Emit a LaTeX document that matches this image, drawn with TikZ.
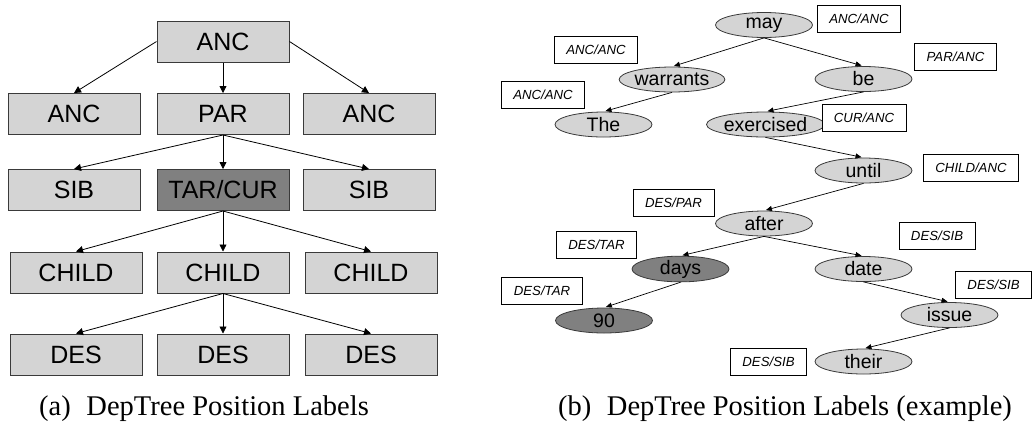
\documentclass[tikz,border=0pt]{standalone}
\usepackage{fontspec}
\setmainfont{Liberation Serif}
\newfontfamily\arialfont{Liberation Sans}
\usetikzlibrary{arrows.meta,shapes.geometric}

\definecolor{boxlight}{HTML}{D4D4D4}
\definecolor{boxdark}{HTML}{808080}
\definecolor{edgegray}{HTML}{3A3A3A}

\tikzset{
  posbox/.style={draw=edgegray, line width=1pt, fill=boxlight, minimum width=132pt,
    minimum height=41pt, inner sep=0pt, font=\arialfont\fontsize{25}{28}\selectfont},
  posdark/.style={posbox, fill=boxdark},
  bigarrow/.style={draw=black, line width=0.8pt, -{Triangle[length=7pt,width=7pt]}},
  word/.style={ellipse, draw=edgegray, line width=0.8pt, fill=boxlight, minimum width=97pt,
    minimum height=25pt, inner sep=0pt, font=\arialfont\fontsize{19.5}{21}\selectfont},
  worddark/.style={word, fill=boxdark},
  tag/.style={draw=black, line width=0.8pt, fill=white, minimum height=27pt, inner xsep=12pt,
    inner ysep=0pt, font=\arialfont\itshape\fontsize{13.2}{15}\selectfont},
  smallarrow/.style={draw=black, line width=0.7pt, -{Triangle[length=6pt,width=5pt]}, shorten >=2pt},
  caption/.style={anchor=base, font=\fontsize{28.5}{32}\selectfont}
}

\begin{document}
\begin{tikzpicture}[x=1pt,y=-1pt]
\useasboundingbox (0,0) rectangle (1035,424);

% ---- (a) position labels ----
\node[posbox] (anc0) at (223,41.5) {ANC};
\node[posbox] (ancL) at (74,114) {ANC};
\node[posbox] (par)  at (223,114) {PAR};
\node[posbox] (ancR) at (369,114) {ANC};
\node[posbox] (sibL) at (74,190) {SIB};
\node[posdark] (tar) at (223,190) {TAR/CUR};
\node[posbox] (sibR) at (369,190) {SIB};
\node[posbox] (chL)  at (76,272.5) {CHILD};
\node[posbox] (chM)  at (223,272.5) {CHILD};
\node[posbox] (chR)  at (371,272.5) {CHILD};
\node[posbox] (desL) at (76,354.5) {DES};
\node[posbox] (desM) at (223,354.5) {DES};
\node[posbox] (desR) at (371,354.5) {DES};

\draw[bigarrow] (anc0.west) -- (ancL.north);
\draw[bigarrow] (anc0.south) -- (par.north);
\draw[bigarrow] (anc0.east) -- (ancR.north);
\draw[bigarrow] (par.south) -- (sibL.north);
\draw[bigarrow] (par.south) -- (tar.north);
\draw[bigarrow] (par.south) -- (sibR.north);
\draw[bigarrow] (tar.south) -- (chL.north);
\draw[bigarrow] (tar.south) -- (chM.north);
\draw[bigarrow] (tar.south) -- (chR.north);
\draw[bigarrow] (chM.south) -- (desL.north);
\draw[bigarrow] (chM.south) -- (desM.north);
\draw[bigarrow] (chM.south) -- (desR.north);

\node[caption] (capA) at (204,415) {(a)\hspace{0.3em} DepTree Position Labels};

% ---- (b) example dependency tree ----
\node[word] (may)       at (764,25)    {may};
\node[word] (warrants)  at (672,79.5)  {warrants};
\node[word] (be)        at (863.5,79)  {be};
\node[word] (the)       at (603.5,124.5) {The};
\node[word] (exercised) at (765.5,124.5) {exercised};
\node[word] (until)     at (863.5,170.5) {until};
\node[word] (after)     at (764,223.5) {after};
\node[worddark] (days)  at (680.5,269) {days};
\node[word] (date)      at (863.5,269) {date};
\node[worddark] (ninety) at (604,320.5) {90};
\node[word] (issue)     at (949.5,315) {issue};
\node[word] (their)     at (863.5,361.5) {their};

\draw[smallarrow] (may.south) -- (warrants.north);
\draw[smallarrow] (may.south) -- (be.north);
\draw[smallarrow] (warrants.south) -- (the.north);
\draw[smallarrow] (be.south) -- (exercised.north);
\draw[smallarrow] (exercised.south) -- (until.north);
\draw[smallarrow] (until.south) -- (after.north);
\draw[smallarrow] (after.south) -- (days.north);
\draw[smallarrow] (after.south) -- (date.north);
\draw[smallarrow] (days.south) -- (ninety.north);
\draw[smallarrow] (date.south) -- (issue.north);
\draw[smallarrow] (issue.south) -- (their.north);

\node[tag] (tMay)   at (859,19)    {ANC/ANC};
\node[tag] (tWar)   at (596,49.5)  {ANC/ANC};
\node[tag] (tBe)    at (955.5,57)  {PAR/ANC};
\node[tag] (tThe)   at (543,95)    {ANC/ANC};
\node[tag] (tExe)   at (864,118)   {CUR/ANC};
\node[tag] (tUntil) at (971,167.5) {CHILD/ANC};
\node[tag] (tAfter) at (673.5,202.5) {DES/PAR};
\node[tag] (tDays)  at (596.5,244.5) {DES/TAR};
\node[tag] (tDate)  at (937,236)   {DES/SIB};
\node[tag] (tNin)   at (542,291)   {DES/TAR};
\node[tag] (tIssue) at (993.5,285) {DES/SIB};
\node[tag] (tTheir) at (768.5,361.5) {DES/SIB};

\node[caption] (capB) at (785,415) {(b)\hspace{0.3em} DepTree Position Labels (example)};
\end{tikzpicture}
\end{document}
